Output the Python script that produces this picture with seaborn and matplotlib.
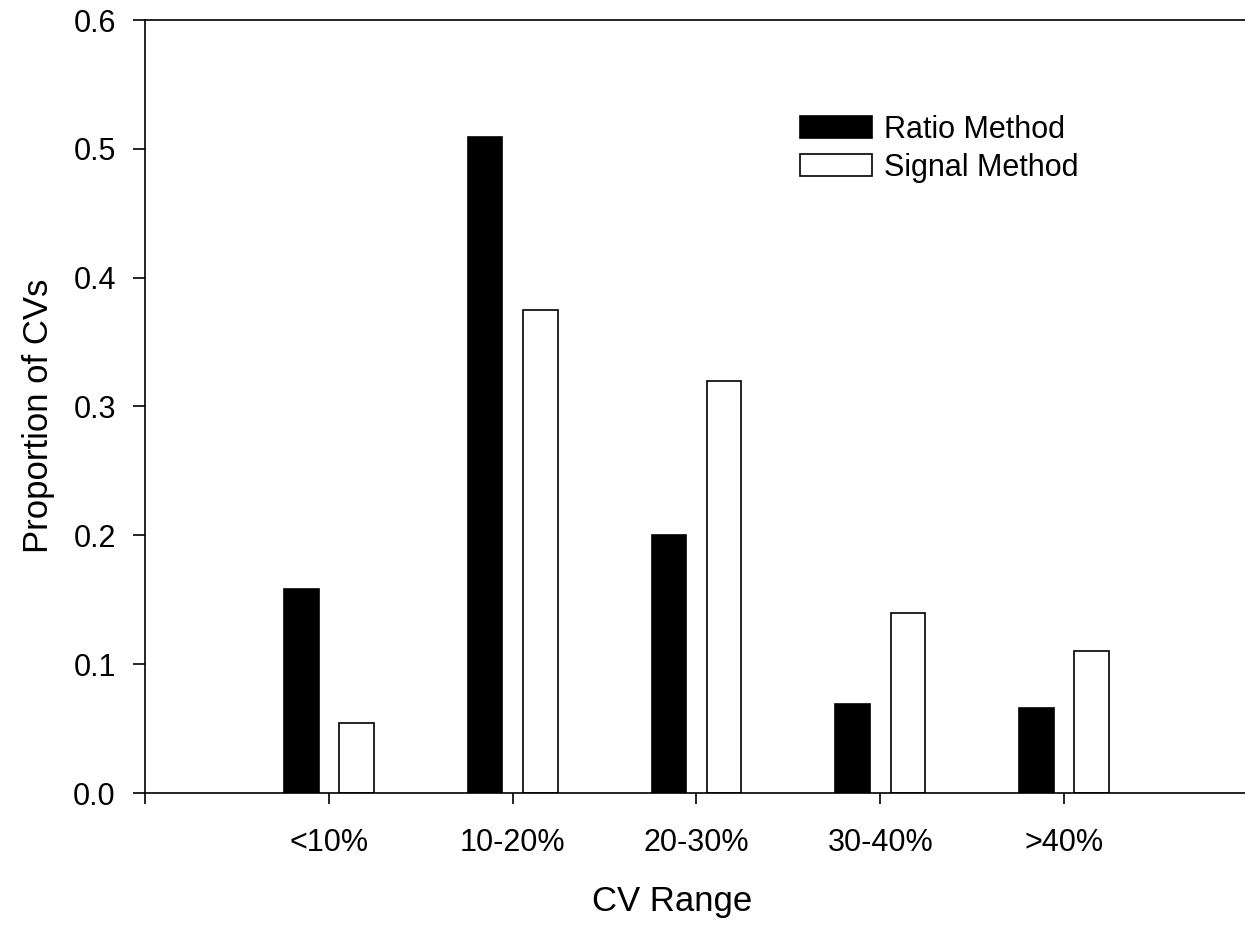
import pandas as pd
import seaborn as sns
import matplotlib.pyplot as plt

# values
categories = ['<10%', '10-20%', '20-30%', '30-40%', '>40%']
ratio_method = [0.158, 0.509, 0.200, 0.069, 0.066]
signal_method = [0.054, 0.375, 0.320, 0.140, 0.110]
y_ticks = [0.0, 0.1, 0.2, 0.3, 0.4, 0.5, 0.6]

df = pd.DataFrame({
    'CV Range': categories * 2,
    'Proportion': ratio_method + signal_method,
    'Method': ['Ratio Method'] * 5 + ['Signal Method'] * 5,
})

sns.set_style('white')
plt.rcParams['font.family'] = ['Liberation Sans', 'DejaVu Sans']
plt.rcParams['text.color'] = 'black'
plt.rcParams['axes.labelcolor'] = 'black'

fig = plt.figure(figsize=(12.45, 9.3), dpi=100)
ax = fig.add_axes([145 / 1245, 137 / 930, 1103 / 1245, 773 / 930])

sns.barplot(
    data=df, x='CV Range', y='Proportion', hue='Method',
    order=categories,
    palette={'Ratio Method': 'black', 'Signal Method': 'white'},
    edgecolor='black', linewidth=1.2,
    width=0.6, gap=0.37, ax=ax,
)

ax.set_xlim(-1, 5)
ax.set_ylim(0, 0.6)
ax.set_xticks(range(-1, 5))
ax.set_xticklabels([''] + categories)
ax.set_yticks(y_ticks)
ax.set_yticklabels([f'{t:.1f}' for t in y_ticks])

for s in ['left', 'bottom', 'top']:
    ax.spines[s].set_visible(True)
    ax.spines[s].set_color('black')
    ax.spines[s].set_linewidth(1.2)
ax.spines['right'].set_visible(False)

ax.tick_params(axis='x', bottom=True, direction='out', length=8, width=1.2,
               pad=17, labelsize=22, colors='black')
ax.tick_params(axis='y', left=True, direction='out', length=9, width=1.2,
               pad=12, labelsize=22, colors='black')

ax.set_xlabel('CV Range', fontsize=25)
ax.set_ylabel('Proportion of CVs', fontsize=25)
ax.xaxis.set_label_coords((672 - 145) / 1103, -(885 - 793) / 773)
ax.yaxis.set_label_coords(-(145 - 55) / 1103, (793 - 416) / 773)

ax.legend(
    frameon=False, loc='upper left',
    bbox_to_anchor=(800 / 1245, 1 - 115 / 930), bbox_transform=fig.transFigure,
    fontsize=22, handlelength=2.36, handleheight=0.72,
    handletextpad=0.4, labelspacing=0.25, borderpad=0, borderaxespad=0,
)

fig.savefig('out.png', dpi=100)
